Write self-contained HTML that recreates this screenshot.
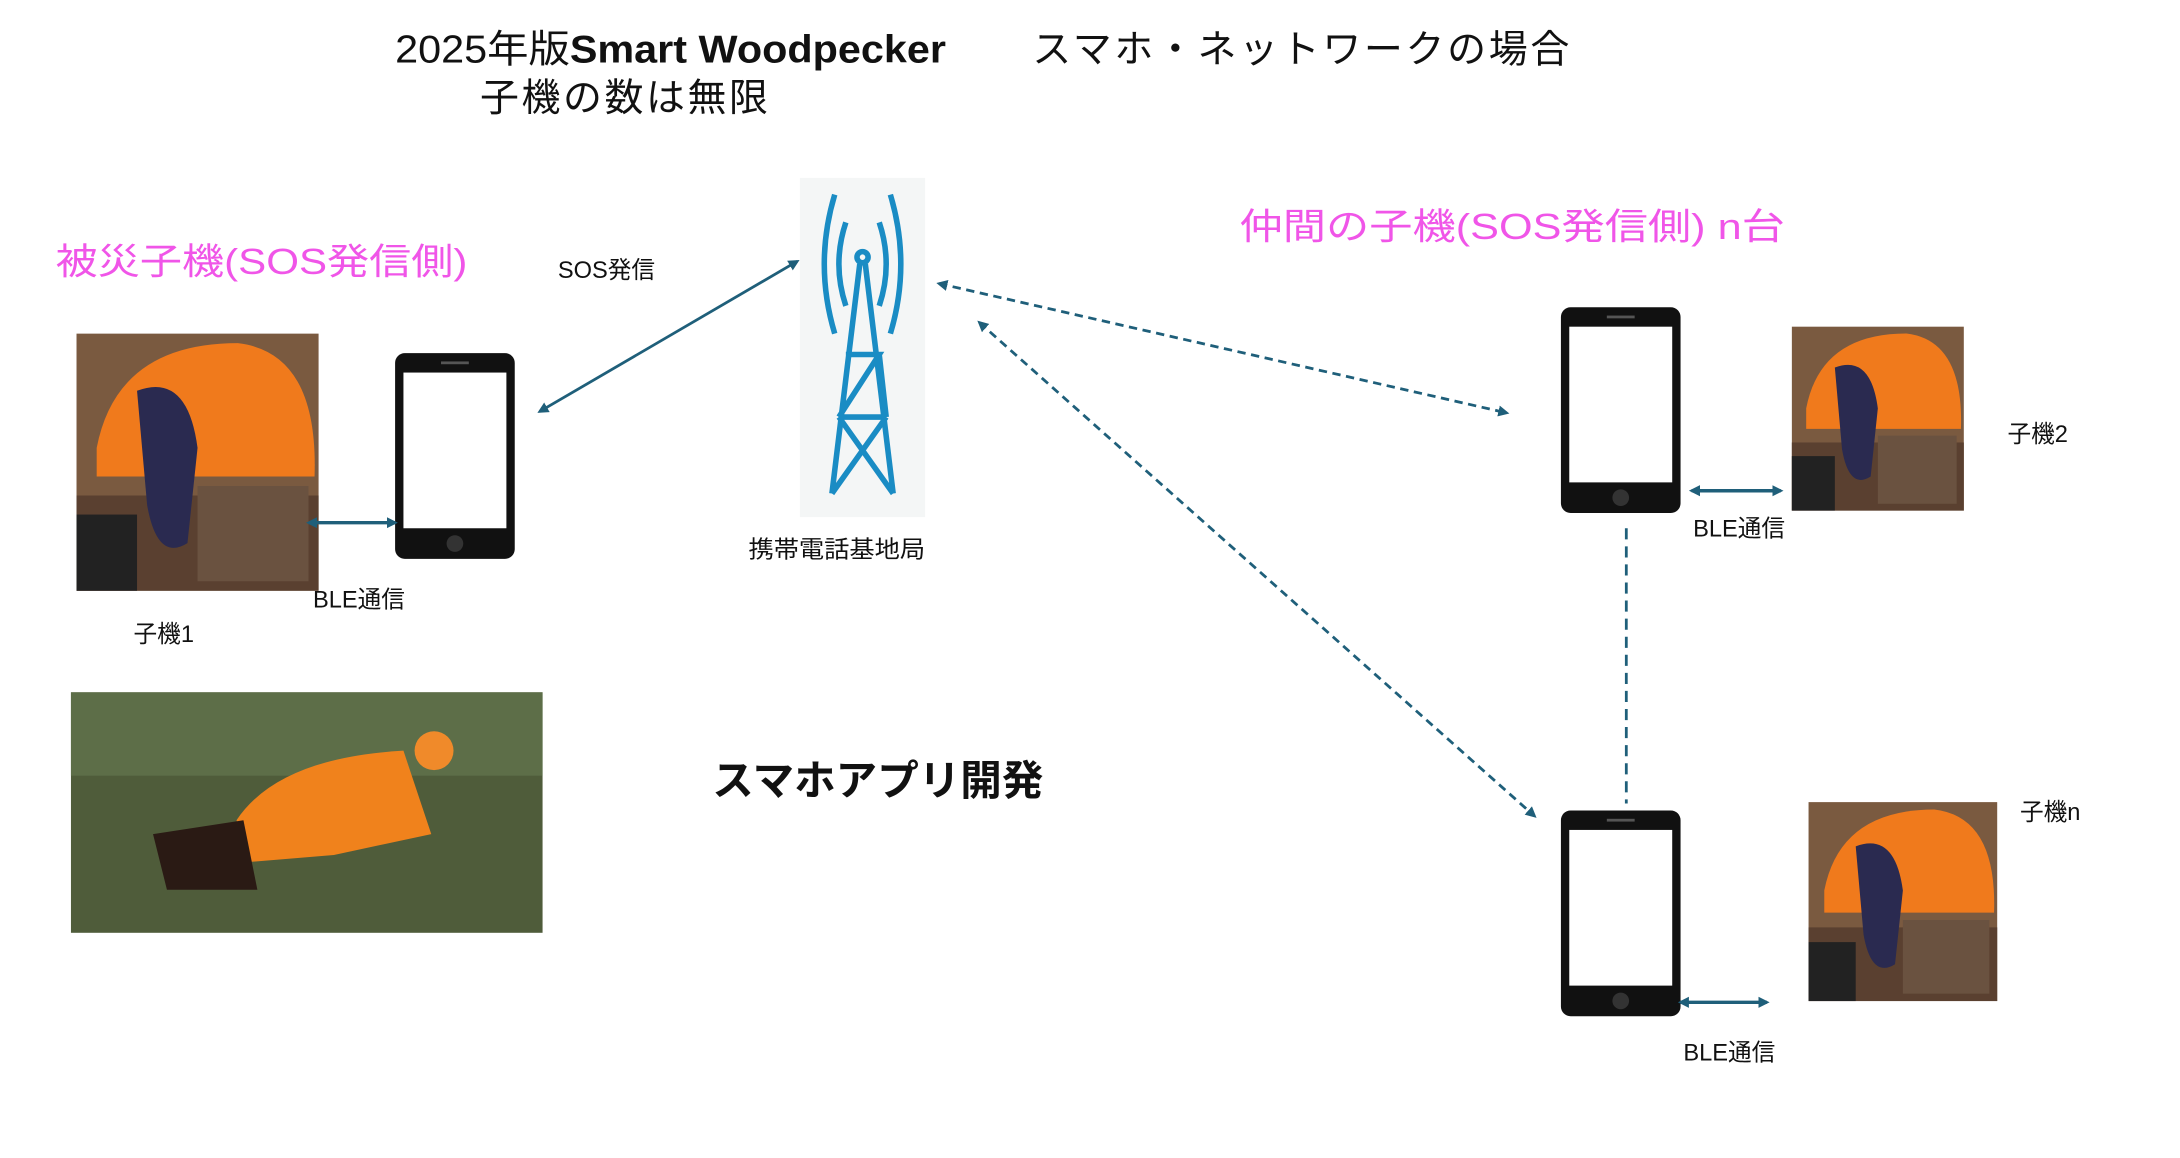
<!DOCTYPE html>
<html><head><meta charset="utf-8"><style>
html,body{margin:0;padding:0;background:#fff;}
svg{display:block;}
text{font-family:"Liberation Sans","Noto Sans CJK JP",sans-serif;}
</style></head><body>
<svg width="2180" height="1158" viewBox="0 0 1567 833" preserveAspectRatio="none" xmlns="http://www.w3.org/2000/svg">
<defs>
<marker id="ah" markerWidth="8" markerHeight="8" refX="6" refY="4" orient="auto-start-reverse" markerUnits="userSpaceOnUse"><path d="M0,0 L8,4 L0,8 z" fill="#1f5f7a"/></marker>
<g id="phone"><rect x="0" y="0" width="86" height="148" rx="7" fill="#111"/><rect x="6" y="14" width="74" height="112" fill="#fff"/><circle cx="43" cy="137" r="6" fill="#333"/><rect x="33" y="6" width="20" height="2" fill="#555"/></g>
<g id="helmet">
<rect x="0" y="0" width="120" height="135" fill="#7a5a40"/>
<rect x="0" y="85" width="120" height="50" fill="#5a4030"/>
<path d="M10,60 Q20,5 80,5 Q120,10 118,75 L10,75 z" fill="#f07a1c"/>
<path d="M30,30 Q55,20 60,60 L55,110 Q40,120 35,90 z" fill="#2a2a50"/>
<rect x="60" y="80" width="55" height="50" fill="#6a5240"/>
<rect x="0" y="95" width="30" height="40" fill="#222"/>
</g>
</defs>
<text x="284" y="45" font-size="28" fill="#111" textLength="396" lengthAdjust="spacingAndGlyphs">2025年版<tspan font-weight="bold">Smart Woodpecker</tspan></text>
<text x="742" y="45" font-size="28" fill="#111" textLength="386" lengthAdjust="spacing">スマホ・ネットワークの場合</text>
<text x="345" y="80" font-size="28" fill="#111" textLength="207" lengthAdjust="spacing">子機の数は無限</text>
<text x="40" y="197" font-size="26" fill="#f055e8" textLength="296" lengthAdjust="spacingAndGlyphs">被災子機(SOS発信側)</text>
<text x="891" y="172" font-size="26" fill="#f055e8" textLength="392" lengthAdjust="spacingAndGlyphs">仲間の子機(SOS発信側)  n台</text>
<text x="401" y="200" font-size="17" fill="#111">SOS発信</text>
<text x="538" y="401" font-size="17" fill="#111" textLength="127" lengthAdjust="spacingAndGlyphs">携帯電話基地局</text>
<text x="512" y="572" font-size="30" font-weight="bold" fill="#111" textLength="238" lengthAdjust="spacingAndGlyphs">スマホアプリ開発</text>
<text x="225" y="437" font-size="17" fill="#111">BLE通信</text>
<text x="96" y="462" font-size="17" fill="#111">子機1</text>
<text x="1443" y="318" font-size="17" fill="#111">子機2</text>
<text x="1217" y="386" font-size="17" fill="#111">BLE通信</text>
<text x="1452" y="590" font-size="17" fill="#111">子機n</text>
<text x="1210" y="763" font-size="17" fill="#111">BLE通信</text>
<!-- tower -->
<rect x="575" y="128" width="90" height="244" fill="#f4f6f6"/>
<g stroke="#1a8cc4" stroke-width="4" fill="none">
<path d="M600,140 Q585,190 600,240"/><path d="M640,140 Q655,190 640,240"/>
<path d="M608,160 Q598,190 608,220"/><path d="M632,160 Q642,190 632,220"/>
<circle cx="620" cy="185" r="4"/>
<path d="M618,190 L598,355 M622,190 L642,355 M603,300 L637,300 M598,355 L637,300 M642,355 L603,300 M608,255 L632,255 L603,300 M632,255 L637,300"/>
</g>
<use href="#phone" x="284" y="254"/>
<use href="#phone" x="1122" y="221"/>
<use href="#phone" x="1122" y="583"/>
<g transform="translate(55,240) scale(1.45,1.37)"><use href="#helmet"/></g>
<g transform="translate(1288,235) scale(1.03,0.98)"><use href="#helmet"/></g>
<g transform="translate(1300,577) scale(1.13,1.06)"><use href="#helmet"/></g>
<rect x="51" y="498" width="339" height="173" fill="#4f5c3a"/>
<rect x="51" y="498" width="339" height="60" fill="#5d6e48"/>
<path d="M170,590 Q200,545 290,540 L310,600 L240,615 L180,620 z" fill="#f0821c"/>
<path d="M110,600 L175,590 L185,640 L120,640 z" fill="#2a1a14"/>
<circle cx="312" cy="540" r="14" fill="#f08a2a"/>
<g stroke="#1f5f7a" stroke-width="2" fill="none">
<line x1="388" y1="296" x2="573" y2="188" marker-start="url(#ah)" marker-end="url(#ah)"/>
<line x1="675" y1="204" x2="1083" y2="297" stroke-dasharray="6,4" marker-start="url(#ah)" marker-end="url(#ah)"/>
<line x1="704" y1="232" x2="1103" y2="587" stroke-dasharray="6,4" marker-start="url(#ah)" marker-end="url(#ah)"/>
<line x1="1169" y1="380" x2="1169" y2="578" stroke-dasharray="8,5"/>
<line x1="222" y1="376" x2="284" y2="376" stroke-width="2.5" marker-start="url(#ah)" marker-end="url(#ah)"/>
<line x1="1216" y1="353" x2="1280" y2="353" stroke-width="2.5" marker-start="url(#ah)" marker-end="url(#ah)"/>
<line x1="1208" y1="721" x2="1270" y2="721" stroke-width="2.5" marker-start="url(#ah)" marker-end="url(#ah)"/>
</g>
</svg>
</body></html>
